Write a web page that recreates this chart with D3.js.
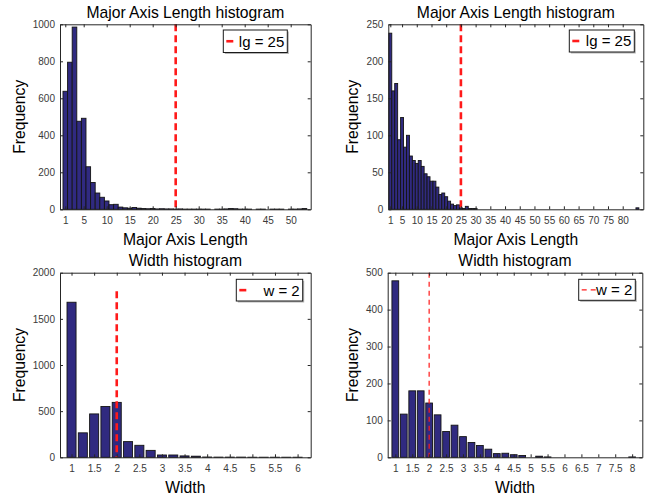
<!DOCTYPE html>
<html>
<head>
<meta charset="utf-8">
<script src="https://d3js.org/d3.v7.min.js"></script>
<style>
  body { margin: 0; background: #fff; }
</style>
</head>
<body>
<div id="chart"></div>
<script>
// histogram data
var lenCentersAll = [1,2,3,4,5,6,7,8,9,10,11,12,13,14,15,16,17,18,19,20,21,22,23,24,25,26,27,28,29,30,
  31,32,33,34,35,36,37,38,39,40,41,42,43,44,45,46,47,48,49,50,51,52,53];
var lenCountsAll = [638,795,985,476,492,230,145,88,65,45,
  25,27,12,8,6,10,6,4,3,4,
  2,3,2,2,1,2,1,1,1,1,
  1,1,0,1,1,2,4,3,1,1,
  1,0,1,1,0,1,1,1,0,1,
  1,2,4];

var lenCentersSub = [1,2,3,4,5,6,7,8,9,10,11,12,13,14,15,16,17,18,19,20,21,22,23,24,25,26,27,28,29,30,
  31,32,33,34,35,36,37,38,39,40,41,42,43,44,45,46,47,48,49,50,51,52,53,54,55,56,57,58,59,60,
  61,62,63,64,65,66,67,68,69,70,71,72,73,74,75,76,77,78,79,80,81,82,83,84,85];
var lenCountsSub = [238,160,170,94,124,84,100,72,66,62,
  66,58,48,44,38,38,30,20,22,17,
  11,7,5,6,2,1,4,1,1,1,
  0,0,0,0,0,0,0,0,0,0,
  0,0,0,0,0,0,0,0,0,0,
  0,0,0,0,0,0,0,0,0,0,
  0,0,0,0,0,0,0,0,0,0,
  0,0,0,0,0,0,0,0,0,0,
  0,0,0,0,2];

var widthCentersAll = [1,1.25,1.5,1.75,2,2.25,2.5,2.75,3,3.25,3.5,3.75,4,4.25,4.5,4.75,5,5.25,5.5,5.75,6];
var widthCountsAll = [1680,265,470,550,595,170,130,75,25,25,15,12,3,2,2,2,1,1,1,1,1];

var widthCentersSub = [1,1.25,1.5,1.75,2,2.25,2.5,2.75,3,3.25,3.5,3.75,4,4.25,4.5,4.75,5,5.25,5.5,5.75,
  6,6.25,6.5,6.75,7,7.25,7.5,7.75,8];
var widthCountsSub = [478,117,180,180,147,115,70,87,56,40,32,22,10,11,7,5,0,3,1,0,
  0,0,0,0,0,0,0,0,1];

var lenTicksAll = [1,5,10,15,20,25,30,35,40,45,50];
var lenTicksSub = [1,5,10,15,20,25,30,35,40,45,50,55,60,65,70,75,80];
var widthTicksAll = [1,1.5,2,2.5,3,3.5,4,4.5,5,5.5,6];
var widthTicksSub = [1,1.5,2,2.5,3,3.5,4,4.5,5,5.5,6,6.5,7,7.5,8];

var svgWidth = 648;
var svgHeight = 497;
var barColor = "#302a80";
var fontFam = "'Liberation Sans', Arial, sans-serif";

var svg = d3.select("#chart")
  .append("svg")
  .attr("width", svgWidth)
  .attr("height", svgHeight);

var panels = [
  {left: 60, right: 310.7, top: 24.3, bottom: 209.3, xDomain: [-0.15, 54.35], yMax: 1000,
   yTicks: [0,200,400,600,800,1000], xTicks: lenTicksAll, centers: lenCentersAll, counts: lenCountsAll, barW: 1,
   title: "Major Axis Length histogram", xLabel: "Major Axis Length", yLabelX: 24.5,
   cut: 25, cutTop: 1000, cutW: 2.6, dash: "7,4", legend: "lg = 25",
   lx: 223.3, ly: 30, lw: 64, lh: 22.5},
  {left: 388.3, right: 643.3, top: 24.3, bottom: 209.3, xDomain: [0.32, 87], yMax: 250,
   yTicks: [0,50,100,150,200,250], xTicks: lenTicksSub, centers: lenCentersSub, counts: lenCountsSub, barW: 1,
   title: "Major Axis Length histogram", xLabel: "Major Axis Length", yLabelX: 358,
   cut: 25, cutTop: 250, cutW: 2.6, dash: "7,4", legend: "lg = 25",
   lx: 569.3, ly: 30, lw: 65, lh: 22},
  {left: 60, right: 310.7, top: 272.7, bottom: 457.3, xDomain: [0.745, 6.29], yMax: 2000,
   yTicks: [0,500,1000,1500,2000], xTicks: widthTicksAll, centers: widthCentersAll, counts: widthCountsAll, barW: 0.2,
   title: "Width histogram", xLabel: "Width", yLabelX: 24.5,
   cut: 2, cutTop: 1800, cutW: 2.6, dash: "7,4", legend: "w = 2",
   lx: 236.3, ly: 279.3, lw: 66.4, lh: 21.7},
  {left: 387.7, right: 642.3, top: 272.7, bottom: 457.3, xDomain: [0.775, 8.3], yMax: 500,
   yTicks: [0,100,200,300,400,500], xTicks: widthTicksSub, centers: widthCentersSub, counts: widthCountsSub, barW: 0.2,
   title: "Width histogram", xLabel: "Width", yLabelX: 358,
   cut: 2, cutTop: 500, cutW: 1.2, dash: "5,4", legend: "w = 2",
   lx: 578.7, ly: 279.3, lw: 56.6, lh: 21}
];

function styleAxis(ax) {
  ax.selectAll("path.domain").attr("stroke", "#262626");
  ax.selectAll(".tick line").attr("stroke", "#262626");
  ax.selectAll("text")
    .attr("fill", "#3a3a3a")
    .style("font-family", fontFam)
    .style("font-size", "10px");
}

function drawPanel(p) {
  var g = svg.append("g");

  var x = d3.scaleLinear().domain(p.xDomain).range([p.left, p.right]);
  var y = d3.scaleLinear().domain([0, p.yMax]).range([p.bottom, p.top]);

  var bins = p.centers.map(function(c, i) { return {c: c, n: p.counts[i]}; });

  // bars
  g.selectAll("rect.bar")
    .data(bins)
    .enter()
    .append("rect")
    .attr("class", "bar")
    .attr("x", d => x(d.c - p.barW / 2))
    .attr("width", d => x(d.c + p.barW / 2) - x(d.c - p.barW / 2))
    .attr("y", d => y(d.n))
    .attr("height", d => y(0) - y(d.n))
    .attr("fill", barColor)
    .attr("stroke", "#141414")
    .attr("stroke-width", 0.9);

  // threshold line
  g.append("line")
    .attr("x1", x(p.cut)).attr("x2", x(p.cut))
    .attr("y1", y(p.cutTop)).attr("y2", y(0))
    .attr("stroke", "#ff1a1a")
    .attr("stroke-width", p.cutW)
    .attr("stroke-dasharray", p.dash);

  // axes on all four sides, ticks pointing inward
  var plain = d => String(d);
  var bottomAxis = d3.axisBottom(x).tickValues(p.xTicks).tickFormat(plain).tickSize(-3).tickSizeOuter(0).tickPadding(8);
  var topAxis = d3.axisTop(x).tickValues(p.xTicks).tickSize(-3).tickSizeOuter(0).tickFormat("");
  var leftAxis = d3.axisLeft(y).tickValues(p.yTicks).tickFormat(plain).tickSize(-3).tickSizeOuter(0).tickPadding(5);
  var rightAxis = d3.axisRight(y).tickValues(p.yTicks).tickSize(-3).tickSizeOuter(0).tickFormat("");

  styleAxis(g.append("g").attr("transform", `translate(0,${p.bottom})`).call(bottomAxis));
  styleAxis(g.append("g").attr("transform", `translate(0,${p.top})`).call(topAxis));
  styleAxis(g.append("g").attr("transform", `translate(${p.left},0)`).call(leftAxis));
  styleAxis(g.append("g").attr("transform", `translate(${p.right},0)`).call(rightAxis));

  // title and labels
  var cx = (p.left + p.right) / 2;
  g.append("text")
    .attr("x", cx).attr("y", p.top - 6.3)
    .attr("text-anchor", "middle")
    .style("font-family", fontFam).style("font-size", "15.7px")
    .attr("fill", "#000")
    .text(p.title);

  g.append("text")
    .attr("x", cx).attr("y", p.bottom + 35.5)
    .attr("text-anchor", "middle")
    .style("font-family", fontFam).style("font-size", "15.7px")
    .attr("fill", "#000")
    .text(p.xLabel);

  g.append("text")
    .attr("transform", `translate(${p.yLabelX},${(p.top + p.bottom) / 2}) rotate(-90)`)
    .attr("text-anchor", "middle")
    .style("font-family", fontFam).style("font-size", "15.7px")
    .attr("fill", "#000")
    .text("Frequency");

  // legend box with a soft shadow
  g.append("rect")
    .attr("x", p.lx + 1.5).attr("y", p.ly + 1.5)
    .attr("width", p.lw).attr("height", p.lh)
    .attr("fill", "#b4b4b4");
  g.append("rect")
    .attr("x", p.lx).attr("y", p.ly)
    .attr("width", p.lw).attr("height", p.lh)
    .attr("fill", "#fff")
    .attr("stroke", "#1a1a1a")
    .attr("stroke-width", 1);

  var sampleLen = p.cutW > 2 ? 7 : 14;
  g.append("line")
    .attr("x1", p.lx + 3).attr("x2", p.lx + 3 + sampleLen)
    .attr("y1", p.ly + p.lh / 2).attr("y2", p.ly + p.lh / 2)
    .attr("stroke", "#ff1a1a")
    .attr("stroke-width", p.cutW)
    .attr("stroke-dasharray", p.dash);

  g.append("text")
    .attr("x", p.lx + p.lw - 3).attr("y", p.ly + p.lh / 2 + 5.4)
    .attr("text-anchor", "end")
    .style("font-family", fontFam).style("font-size", "15px")
    .attr("fill", "#000")
    .text(p.legend);
}

panels.forEach(drawPanel);
</script>
</body>
</html>
